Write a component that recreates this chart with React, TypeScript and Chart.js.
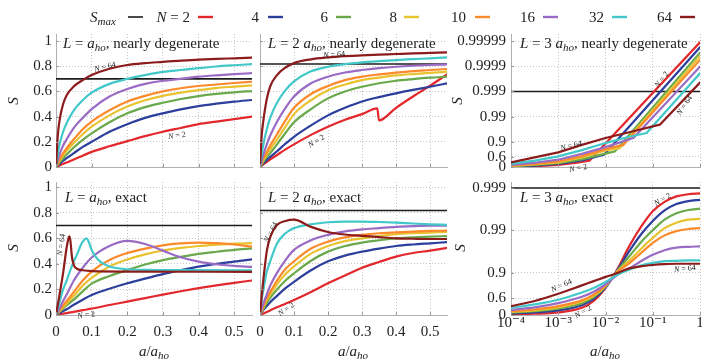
import React, { useEffect, useRef } from "react";
import { Chart, registerables } from "chart.js";

Chart.register(...registerables);

const W = 702;
const H = 359;
const SERIF = '"Liberation Serif", "DejaVu Serif", serif';
const INK = "#222222";

const N_VALUES = ["2", "4", "6", "8", "10", "16", "32", "64"];
const COLORS = ["#e2282c", "#2c3f9c", "#6aa94b", "#e8c22f", "#fb8a2c", "#9a6bc4", "#42c8c9", "#8c1c1c"];

// ---------- axes ----------
const X_TICKS_LIN = [0, 0.1, 0.2, 0.3, 0.4, 0.5];
const X_TICK_LABELS_LIN = ["0", "0.1", "0.2", "0.3", "0.4", "0.5"];
const X_TICKS_LOG = [1e-4, 1e-3, 1e-2, 1e-1, 1];
const X_TICK_LABELS_LOG = ["10\u207B\u2074", "10\u207B\u00B3", "10\u207B\u00B2", "10\u207B\u00B9", "1"];
const Y_TICKS_LIN = [0, 0.2, 0.4, 0.6, 0.8, 1];
const Y_TICK_LABELS_LIN = ["0", "0.2", "0.4", "0.6", "0.8", "1"];
// right column: vertical axis is -log10(1 - S)
const Y_TICKS_TR = [0, 0.39794, 1, 2, 3, 4, 5];
const Y_TICK_LABELS_TR = ["0", "0.6", "0.9", "0.99", "0.999", "0.9999", "0.99999"];
const Y_TICKS_BR = [0, 0.39794, 1, 2, 3];
const Y_TICK_LABELS_BR = ["0", "0.6", "0.9", "0.99", "0.999"];

// ---------- data: a/a_ho grid of the linear panels ----------
const X_LIN = [0, 0.005, 0.01, 0.02, 0.03, 0.05, 0.075, 0.1, 0.15, 0.2, 0.25, 0.3, 0.35, 0.4, 0.45, 0.5, 0.55];

// L = a_ho, nearly degenerate (N = 2 ... 64)
const TL_Y = [
  [0, 0.006, 0.012, 0.025, 0.036, 0.06, 0.09, 0.12, 0.165, 0.205, 0.245, 0.28, 0.31, 0.34, 0.36, 0.38, 0.4],
  [0, 0.013, 0.025, 0.05, 0.07, 0.11, 0.16, 0.2, 0.28, 0.34, 0.39, 0.426, 0.458, 0.484, 0.503, 0.519, 0.532],
  [0, 0.018, 0.035, 0.07, 0.1, 0.155, 0.215, 0.267, 0.355, 0.426, 0.475, 0.51, 0.54, 0.563, 0.58, 0.593, 0.603],
  [0, 0.025, 0.05, 0.09, 0.13, 0.19, 0.26, 0.32, 0.41, 0.48, 0.53, 0.565, 0.59, 0.61, 0.627, 0.638, 0.648],
  [0, 0.03, 0.06, 0.11, 0.15, 0.22, 0.3, 0.36, 0.45, 0.52, 0.565, 0.6, 0.625, 0.643, 0.655, 0.667, 0.677],
  [0, 0.055, 0.1, 0.17, 0.22, 0.31, 0.39, 0.46, 0.56, 0.62, 0.66, 0.685, 0.7, 0.717, 0.728, 0.737, 0.745],
  [0, 0.1, 0.18, 0.28, 0.35, 0.45, 0.53, 0.59, 0.66, 0.7, 0.73, 0.755, 0.77, 0.785, 0.798, 0.808, 0.817],
  [0, 0.25, 0.37, 0.5, 0.57, 0.64, 0.69, 0.73, 0.78, 0.81, 0.825, 0.835, 0.845, 0.852, 0.858, 0.863, 0.868],
];
const TL_SMAX = 0.7;

// L = 2 a_ho, nearly degenerate
const X_TM_N2 = [0, 0.01, 0.02, 0.03, 0.05, 0.075, 0.1, 0.15, 0.2, 0.25, 0.3, 0.345, 0.35, 0.4, 0.45, 0.5, 0.55];
const TM_N2 = [0, 0.02, 0.04, 0.06, 0.095, 0.14, 0.18, 0.255, 0.32, 0.375, 0.42, 0.465, 0.37, 0.47, 0.56, 0.645, 0.735];
const TM_Y = [
  [0, 0.015, 0.03, 0.055, 0.08, 0.125, 0.185, 0.24, 0.33, 0.41, 0.47, 0.52, 0.555, 0.585, 0.612, 0.637, 0.664],
  [0, 0.02, 0.04, 0.08, 0.11, 0.18, 0.27, 0.355, 0.46, 0.545, 0.6, 0.637, 0.665, 0.685, 0.698, 0.709, 0.717],
  [0, 0.028, 0.055, 0.1, 0.14, 0.22, 0.32, 0.42, 0.53, 0.61, 0.655, 0.69, 0.71, 0.727, 0.738, 0.747, 0.757],
  [0, 0.035, 0.07, 0.12, 0.17, 0.26, 0.37, 0.47, 0.58, 0.643, 0.69, 0.717, 0.735, 0.75, 0.762, 0.77, 0.778],
  [0, 0.05, 0.1, 0.18, 0.25, 0.36, 0.47, 0.56, 0.665, 0.717, 0.75, 0.77, 0.785, 0.796, 0.804, 0.81, 0.815],
  [0, 0.1, 0.18, 0.3, 0.39, 0.51, 0.61, 0.68, 0.76, 0.796, 0.817, 0.83, 0.84, 0.849, 0.856, 0.863, 0.87],
  [0, 0.25, 0.37, 0.54, 0.64, 0.73, 0.79, 0.825, 0.855, 0.87, 0.88, 0.887, 0.892, 0.897, 0.902, 0.906, 0.91],
];
const TM_SMAX = 0.818;

// L = a_ho, exact
const BL_Y = [
  [0, 0.0025, 0.005, 0.01, 0.015, 0.025, 0.038, 0.05, 0.078, 0.105, 0.132, 0.16, 0.186, 0.21, 0.232, 0.252, 0.27],
  [0, 0.008, 0.015, 0.03, 0.045, 0.08, 0.12, 0.157, 0.205, 0.248, 0.285, 0.32, 0.35, 0.378, 0.4, 0.418, 0.435],
  [0, 0.012, 0.025, 0.05, 0.075, 0.12, 0.185, 0.245, 0.305, 0.352, 0.395, 0.43, 0.455, 0.478, 0.495, 0.51, 0.522],
  [0, 0.015, 0.03, 0.06, 0.09, 0.15, 0.23, 0.29, 0.38, 0.435, 0.475, 0.505, 0.525, 0.54, 0.55, 0.558, 0.562],
  [0, 0.018, 0.035, 0.075, 0.11, 0.18, 0.27, 0.34, 0.43, 0.485, 0.52, 0.545, 0.56, 0.567, 0.563, 0.552, 0.535],
  [0, 0.025, 0.05, 0.11, 0.16, 0.27, 0.37, 0.45, 0.54, 0.58, 0.556, 0.504, 0.452, 0.418, 0.397, 0.384, 0.376],
];
const X_BL_N32 = [0, 0.01, 0.02, 0.03, 0.04, 0.05, 0.06, 0.07, 0.08, 0.085, 0.09, 0.1, 0.11, 0.125, 0.15, 0.2, 0.25, 0.3, 0.4, 0.55];
const BL_N32 = [0, 0.1, 0.2, 0.27, 0.35, 0.42, 0.48, 0.55, 0.59, 0.6, 0.585, 0.51, 0.46, 0.415, 0.38, 0.358, 0.353, 0.352, 0.351, 0.35];
const X_BL_N64 = [0, 0.005, 0.01, 0.02, 0.03, 0.035, 0.037, 0.04, 0.045, 0.05, 0.06, 0.075, 0.1, 0.2, 0.55];
const BL_N64 = [0, 0.08, 0.16, 0.33, 0.53, 0.6, 0.615, 0.59, 0.45, 0.39, 0.36, 0.35, 0.343, 0.34, 0.338];
const BL_SMAX = 0.7;

// L = 2 a_ho, exact
const BM_Y = [
  [0, 0.006, 0.012, 0.024, 0.036, 0.06, 0.088, 0.117, 0.18, 0.248, 0.31, 0.37, 0.415, 0.457, 0.485, 0.504, 0.525],
  [0, 0.02, 0.04, 0.07, 0.1, 0.15, 0.21, 0.26, 0.35, 0.42, 0.465, 0.496, 0.52, 0.54, 0.552, 0.561, 0.57],
  [0, 0.025, 0.05, 0.095, 0.135, 0.2, 0.27, 0.326, 0.425, 0.496, 0.54, 0.567, 0.585, 0.6, 0.607, 0.613, 0.618],
  [0, 0.03, 0.06, 0.115, 0.16, 0.24, 0.32, 0.38, 0.48, 0.54, 0.578, 0.6, 0.618, 0.632, 0.64, 0.645, 0.65],
  [0, 0.035, 0.07, 0.13, 0.18, 0.27, 0.36, 0.42, 0.52, 0.574, 0.607, 0.627, 0.64, 0.647, 0.653, 0.658, 0.66],
  [0, 0.05, 0.09, 0.16, 0.23, 0.33, 0.43, 0.51, 0.585, 0.627, 0.655, 0.67, 0.68, 0.69, 0.695, 0.7, 0.7],
  [0, 0.12, 0.2, 0.34, 0.42, 0.56, 0.64, 0.68, 0.71, 0.726, 0.731, 0.731, 0.728, 0.723, 0.716, 0.71, 0.705],
  [0, 0.15, 0.28, 0.5, 0.61, 0.705, 0.736, 0.746, 0.69, 0.65, 0.63, 0.62, 0.61, 0.6, 0.597, 0.595, 0.595],
];
const BM_SMAX = 0.818;

// L = 3 a_ho, nearly degenerate: x as log10(a/a_ho), y as -log10(1 - S)
const TR_LX = [
  [-4, -3.5, -3, -2.6, -2.34, 0],
  [-4, -3.5, -3, -2.5, -2.03, 0],
  [-4, -3.5, -3, -2.5, -2, -1.8, 0],
  [-4, -3.5, -3, -2.5, -2, -1.7, 0],
  [-4, -3.5, -3, -2.5, -2, -1.62, 0],
  [-4, -3.5, -3, -2.5, -2, -1.41, 0],
  [-4, -3.5, -3, -2.5, -2, -1.5, -1.13, 0],
  [-4, -3.5, -3, -2.5, -2, -1.5, -0.85, 0],
];
const TR_T = [
  [0.01, 0.03, 0.08, 0.17, 0.25, 4.95],
  [0.02, 0.05, 0.12, 0.26, 0.49, 4.75],
  [0.03, 0.08, 0.15, 0.3, 0.53, 0.62, 4.54],
  [0.04, 0.1, 0.18, 0.38, 0.66, 0.75, 4.4],
  [0.05, 0.12, 0.22, 0.43, 0.71, 0.88, 4.25],
  [0.08, 0.17, 0.29, 0.52, 0.79, 1.15, 3.98],
  [0.12, 0.25, 0.42, 0.67, 0.95, 1.2, 1.35, 3.72],
  [0.18, 0.38, 0.58, 0.88, 1.15, 1.38, 1.68, 3.35],
];
const TR_SMAX_T = 3;

// L = 3 a_ho, exact
const BR_LX = [-4, -3.5, -3, -2.5, -2.25, -2, -1.75, -1.5, -1.25, -1, -0.75, -0.5, -0.25, 0];
const BR_T = [
  [0.02, 0.03, 0.06, 0.17, 0.33, 0.64, 1.08, 1.62, 2.08, 2.45, 2.67, 2.8, 2.85, 2.87],
  [0.04, 0.06, 0.11, 0.23, 0.38, 0.65, 1.06, 1.5, 1.9, 2.22, 2.47, 2.62, 2.69, 2.72],
  [0.06, 0.09, 0.15, 0.28, 0.42, 0.67, 1.04, 1.38, 1.72, 2.0, 2.25, 2.4, 2.48, 2.51],
  [0.07, 0.11, 0.18, 0.32, 0.45, 0.68, 1.03, 1.28, 1.56, 1.82, 2.05, 2.18, 2.25, 2.27],
  [0.09, 0.13, 0.21, 0.35, 0.48, 0.7, 1.02, 1.22, 1.46, 1.7, 1.88, 1.98, 2.03, 2.05],
  [0.12, 0.18, 0.28, 0.43, 0.55, 0.72, 0.95, 1.1, 1.27, 1.42, 1.53, 1.59, 1.61, 1.62],
  [0.17, 0.25, 0.36, 0.53, 0.64, 0.78, 0.95, 1.07, 1.17, 1.23, 1.27, 1.28, 1.29, 1.29],
  [0.21, 0.33, 0.5, 0.7, 0.8, 0.9, 0.99, 1.1, 1.15, 1.18, 1.2, 1.21, 1.21, 1.21],
];
const BR_SMAX_T = 3;

// ---------- text helpers ----------
type Part = [string, "r" | "i" | "sub"];

function partFont(style: string, size: number) {
  if (style === "r") return `${size}px ${SERIF}`;
  if (style === "i") return `italic ${size}px ${SERIF}`;
  return `italic ${Math.round(size * 0.7)}px ${SERIF}`;
}

function drawParts(ctx: CanvasRenderingContext2D, parts: Part[], x: number, y: number, size: number, align: string) {
  ctx.textBaseline = "alphabetic";
  ctx.textAlign = "left";
  ctx.fillStyle = INK;
  const widths = parts.map((p) => {
    ctx.font = partFont(p[1], size);
    return ctx.measureText(p[0]).width;
  });
  const total = widths.reduce((a, b) => a + b, 0);
  let cx = align === "center" ? x - total / 2 : align === "right" ? x - total : x;
  parts.forEach((p, i) => {
    ctx.font = partFont(p[1], size);
    ctx.fillText(p[0], cx, y + (p[1] === "sub" ? size * 0.22 : 0));
    cx += widths[i];
  });
}

function hline(ctx: CanvasRenderingContext2D, x1: number, y1: number, x2: number, y2: number) {
  ctx.beginPath();
  ctx.moveTo(x1, y1);
  ctx.lineTo(x2, y2);
  ctx.stroke();
}

// ---------- panels ----------
type Series = { x: number[]; y: number[] };
type Note = { x: number; y: number; n: string; a: number };
interface Panel {
  area: [number, number, number, number];
  log: boolean;
  yMax: number;
  yTicks: number[];
  yLabels: string[] | null;
  xLabels: boolean;
  xPad: number;
  yPad: number;
  series: Series[];
  smax: number;
  smooth: boolean;
  title: Part[];
  titlePos: [number, number];
  notes: Note[];
}

const lin = (ys: number[][]) => ys.map((y) => ({ x: X_LIN, y }));
const pow10 = (a: number[]) => a.map((v) => Math.pow(10, v));

const titleDeg = (pre: string): Part[] => [["L", "i"], [pre, "r"], ["a", "i"], ["ho", "sub"], [", nearly degenerate", "r"]];
const titleEx = (pre: string): Part[] => [["L", "i"], [pre, "r"], ["a", "i"], ["ho", "sub"], [", exact", "r"]];

const PANELS: Panel[] = [
  {
    area: [56, 34, 252, 167], log: false, yMax: 1.056, yTicks: Y_TICKS_LIN, yLabels: Y_TICK_LABELS_LIN,
    xLabels: false, xPad: 5, yPad: 4, series: lin(TL_Y), smax: TL_SMAX, smooth: true,
    title: titleDeg(" = "), titlePos: [63, 48],
    notes: [{ x: 0.137, y: 0.8, n: "64", a: -14 }, { x: 0.339, y: 0.255, n: "2", a: -8 }],
  },
  {
    area: [260, 34, 447, 167], log: false, yMax: 1.056, yTicks: Y_TICKS_LIN, yLabels: null,
    xLabels: false, xPad: 5, yPad: 4, series: [{ x: X_TM_N2, y: TM_N2 }, ...lin(TM_Y)], smax: TM_SMAX, smooth: true,
    title: titleDeg(" = 2 "), titlePos: [268, 48],
    notes: [{ x: 0.218, y: 0.897, n: "64", a: -4 }, { x: 0.165, y: 0.21, n: "2", a: -32 }],
  },
  {
    area: [511, 34, 700, 167], log: true, yMax: 5.28, yTicks: Y_TICKS_TR, yLabels: Y_TICK_LABELS_TR,
    xLabels: false, xPad: 5, yPad: 5, series: TR_LX.map((lx, i) => ({ x: pow10(lx), y: TR_T[i] })), smax: TR_SMAX_T, smooth: false,
    title: titleDeg(" = 3 "), titlePos: [520, 48],
    notes: [
      { x: -0.825, y: 3.49, n: "2", a: -52 }, { x: -2.73, y: 0.87, n: "64", a: -14 },
      { x: -2.58, y: -0.02, n: "2", a: -10 }, { x: -0.34, y: 2.46, n: "64", a: -55 },
    ],
  },
  {
    area: [56, 182, 252, 315], log: false, yMax: 1.041, yTicks: Y_TICKS_LIN, yLabels: Y_TICK_LABELS_LIN,
    xLabels: true, xPad: 8, yPad: 4,
    series: [...lin(BL_Y), { x: X_BL_N32, y: BL_N32 }, { x: X_BL_N64, y: BL_N64 }], smax: BL_SMAX, smooth: true,
    title: titleEx(" = "), titlePos: [65, 202],
    notes: [{ x: 0.013, y: 0.55, n: "64", a: -82 }, { x: 0.085, y: 0.005, n: "2", a: -8 }],
  },
  {
    area: [260, 182, 447, 315], log: false, yMax: 1.041, yTicks: Y_TICKS_LIN, yLabels: null,
    xLabels: true, xPad: 8, yPad: 4, series: lin(BM_Y), smax: BM_SMAX, smooth: true,
    title: titleEx(" = 2 "), titlePos: [268, 202],
    notes: [{ x: 0.03, y: 0.65, n: "64", a: -62 }, { x: 0.076, y: 0.05, n: "2", a: -35 }],
  },
  {
    area: [511, 182, 700, 315], log: true, yMax: 3.14, yTicks: Y_TICKS_BR, yLabels: Y_TICK_LABELS_BR,
    xLabels: true, xPad: -1, yPad: 5, series: BR_T.map((t) => ({ x: pow10(BR_LX), y: t })), smax: BR_SMAX_T, smooth: true,
    title: titleEx(" = 3 "), titlePos: [520, 202],
    notes: [
      { x: -0.8, y: 2.74, n: "2", a: -30 }, { x: -0.32, y: 1.11, n: "64", a: -5 },
      { x: -2.94, y: 0.71, n: "64", a: -25 }, { x: -2.48, y: 0.09, n: "2", a: -30 },
    ],
  },
];

// legend layout
const LEG_TEXT_END = [190, 259, 328, 397, 466, 535, 604, 672];
const LEG_SWATCH = [198, 268, 336, 404, 475, 543, 612, 680];

function drawGlobal(ctx: CanvasRenderingContext2D) {
  ctx.save();
  const ly = 22;
  drawParts(ctx, [["S", "i"], ["max", "sub"]], 90, ly, 15, "left");
  ctx.strokeStyle = "#1c1c1c";
  ctx.lineWidth = 1.6;
  hline(ctx, 128, 17, 143, 17);
  N_VALUES.forEach((n, i) => {
    const parts: Part[] = i === 0 ? [["N", "i"], [" = 2", "r"]] : [[n, "r"]];
    drawParts(ctx, parts, LEG_TEXT_END[i], ly, 15, "right");
    ctx.strokeStyle = COLORS[i];
    ctx.lineWidth = 2.4;
    hline(ctx, LEG_SWATCH[i], 17, LEG_SWATCH[i] + 15, 17);
  });
  const yTitles: [number, number][] = [[13, 101], [13, 248], [457, 101], [460, 248]];
  yTitles.forEach(([x, y]) => {
    ctx.save();
    ctx.translate(x, y);
    ctx.rotate(-Math.PI / 2);
    drawParts(ctx, [["S", "i"]], 0, 5, 15, "center");
    ctx.restore();
  });
  [154, 353, 605].forEach((x) => {
    drawParts(ctx, [["a", "i"], ["/", "r"], ["a", "i"], ["ho", "sub"]], x, 356, 15, "center");
  });
  ctx.restore();
}

function makeConfig(p: Panel, global: boolean): any {
  const xMin = p.log ? 1e-4 : 0;
  const xMax = p.log ? 1 : 0.55;
  const xTicks = p.log ? X_TICKS_LOG : X_TICKS_LIN;
  const xLabels = p.log ? X_TICK_LABELS_LOG : X_TICK_LABELS_LIN;
  const datasets: any[] = [
    {
      data: [{ x: xMin, y: p.smax }, { x: xMax, y: p.smax }],
      borderColor: "#1c1c1c", borderWidth: 1.6, pointRadius: 0, tension: 0, order: 20,
    },
    ...p.series.map((s, i) => ({
      data: s.x.map((x, j) => ({ x, y: s.y[j] })),
      borderColor: COLORS[i],
      borderWidth: 2.2,
      pointRadius: 0,
      tension: p.smooth ? 0.4 : 0,
      cubicInterpolationMode: p.smooth ? "monotone" : "default",
      borderJoinStyle: "round",
      borderCapStyle: "round",
      order: 10 - i,
    })),
  ];
  const [l, t, r, b] = p.area;
  const deco = {
    id: "deco",
    afterDraw(chart: any) {
      const ctx: CanvasRenderingContext2D = chart.ctx;
      const area = chart.chartArea;
      const xs = chart.scales.x;
      const ys = chart.scales.y;
      ctx.save();
      ctx.strokeStyle = "#9a9a9a";
      ctx.lineWidth = 1;
      p.yTicks.forEach((v) => {
        const py = Math.round(ys.getPixelForValue(v)) + 0.5;
        hline(ctx, area.left, py, area.left + 3, py);
      });
      xTicks.forEach((v) => {
        const px = Math.round(xs.getPixelForValue(v)) + 0.5;
        hline(ctx, px, area.bottom, px, area.bottom - 3);
      });
      drawParts(ctx, p.title, p.titlePos[0], p.titlePos[1], 15, "left");
      p.notes.forEach((n) => {
        const px = xs.getPixelForValue(p.log ? Math.pow(10, n.x) : n.x);
        const py = ys.getPixelForValue(n.y);
        ctx.save();
        ctx.translate(px, py);
        ctx.rotate((n.a * Math.PI) / 180);
        drawParts(ctx, [["N", "i"], [" = " + n.n, "r"]], 0, 3, 8, "center");
        ctx.restore();
      });
      ctx.restore();
      if (global) drawGlobal(ctx);
    },
  };
  return {
    type: "line",
    data: { datasets },
    plugins: [deco],
    options: {
      responsive: false,
      animation: false,
      events: [],
      layout: { autoPadding: false, padding: { left: 0, top: t, right: W - r, bottom: 0 } },
      plugins: { legend: { display: false }, tooltip: { enabled: false }, title: { display: false } },
      scales: {
        x: {
          type: p.log ? "logarithmic" : "linear",
          min: xMin,
          max: xMax,
          afterFit: (s: any) => { s.height = H - b; s.paddingLeft = 0; s.paddingRight = 0; },
          afterBuildTicks: (s: any) => { s.ticks = xTicks.map((v) => ({ value: v })); },
          ticks: {
            display: p.xLabels, autoSkip: false, maxRotation: 0, minRotation: 0, padding: p.xPad,
            color: INK, font: { family: SERIF, size: 15 },
            callback: (_v: any, i: number) => xLabels[i],
          },
          grid: { color: "#c4c4c4", lineWidth: 1, drawTicks: false },
          border: { display: true, color: "#b0b0b0", width: 1, dash: [1, 2] },
        },
        y: {
          type: "linear",
          min: 0,
          max: p.yMax,
          afterFit: (s: any) => { s.width = l; s.paddingTop = 0; s.paddingBottom = 0; },
          afterBuildTicks: (s: any) => { s.ticks = p.yTicks.map((v) => ({ value: v })); },
          ticks: {
            display: !!p.yLabels, autoSkip: false, padding: p.yPad,
            color: INK, font: { family: SERIF, size: 15 },
            callback: (_v: any, i: number) => (p.yLabels ? p.yLabels[i] : ""),
          },
          grid: { color: "#c4c4c4", lineWidth: 1, drawTicks: false },
          border: { display: true, color: "#b0b0b0", width: 1, dash: [1, 2] },
        },
      },
    },
  };
}

function PanelChart({ p, global }: { p: Panel; global: boolean }) {
  const ref = useRef<HTMLCanvasElement>(null);
  useEffect(() => {
    const chart = new Chart(ref.current as HTMLCanvasElement, makeConfig(p, global));
    return () => chart.destroy();
  }, []);
  return (
    <canvas
      ref={ref}
      width={W}
      height={H}
      style={{ position: "absolute", left: 0, top: 0, width: W, height: H }}
    />
  );
}

export default function App() {
  return (
    <div style={{ position: "absolute", left: 0, top: 0, width: W, height: H, background: "#ffffff", overflow: "hidden" }}>
      {PANELS.map((p, i) => (
        <PanelChart key={i} p={p} global={i === 0} />
      ))}
    </div>
  );
}
